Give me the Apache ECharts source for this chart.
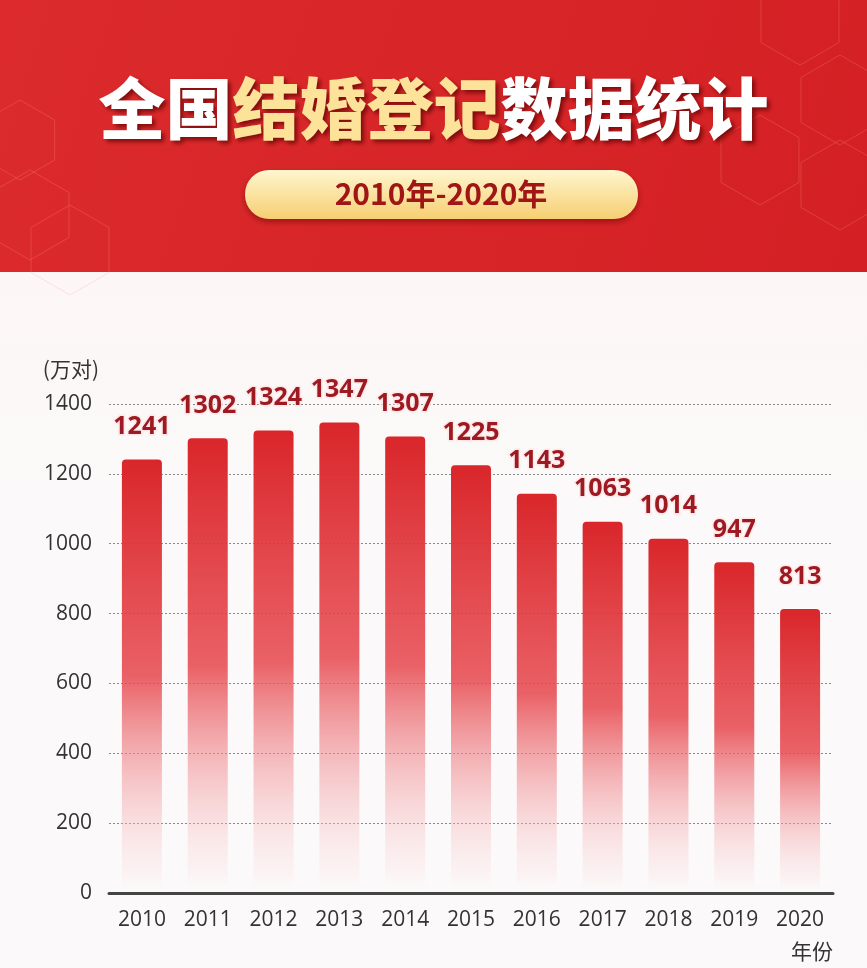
<!DOCTYPE html>
<html><head><meta charset="utf-8">
<script src="https://cdn.jsdelivr.net/npm/echarts@6/dist/echarts.min.js"></script>
<style>html,body{margin:0;padding:0;background:#fbf8f8;}#c{width:867px;height:968px;}</style>
</head><body><div id="c"></div>
<script>
const years = ['2010','2011','2012','2013','2014','2015','2016','2017','2018','2019','2020'];
const marriages = [1241,1302,1324,1347,1307,1225,1143,1063,1014,947,813];
const yTicks = {min:0, max:1400, interval:200};
const titleMain = ['全国','结婚登记','数据统计'];
const subtitle = '2010年-2020年';
const yName = '(万对)';
const xName = '年份';

const chart = echarts.init(document.getElementById('c'));
function hex(cx, cy, r){
  const pts=[];
  for(let i=0;i<6;i++){const a=Math.PI/3*i+Math.PI/6;pts.push([cx+r*Math.cos(a),cy+r*Math.sin(a)]);}
  return {type:'polygon',shape:{points:pts},style:{fill:'none',stroke:'rgba(255,150,140,0.25)',lineWidth:1},silent:true};
}
const hexes=[hex(800,20,45),hex(840,100,45),hex(840,185,45),hex(760,160,45),hex(30,215,45),hex(70,250,45),hex(20,140,40)];
chart.setOption({
  backgroundColor:'#fbf8f8',
  animation:false,
  graphic:[
    {type:'rect',z:-10,shape:{x:0,y:0,width:867,height:272},style:{fill:new echarts.graphic.LinearGradient(0,0,1,1,[{offset:0,color:'#dc2b2c'},{offset:1,color:'#d42024'}])},silent:true},
    {type:'group',z:-9,children:hexes},
    {type:'rect',z:-10,shape:{x:0,y:272,width:867,height:696},style:{fill:new echarts.graphic.LinearGradient(0,0,0,1,[{offset:0,color:'#fdf6f6'},{offset:0.3,color:'#fbf9f9'},{offset:1,color:'#fbf9f9'}])},silent:true},
    {type:'text',left:'center',top:75,z:10,style:{
      text:'{w|'+titleMain[0]+'}{y|'+titleMain[1]+'}{w|'+titleMain[2]+'}',
      rich:{
        w:{fontSize:67,fontWeight:900,fontFamily:'"Noto Sans CJK SC"',fill:'#ffffff',textShadowColor:'rgba(90,0,0,0.7)',textShadowBlur:4,textShadowOffsetX:3,textShadowOffsetY:3},
        y:{fontSize:67,fontWeight:900,fontFamily:'"Noto Sans CJK SC"',fill:'#fde39a',textShadowColor:'rgba(90,0,0,0.7)',textShadowBlur:4,textShadowOffsetX:3,textShadowOffsetY:3}
      }}},
    {type:'rect',z:10,shape:{x:245,y:170,width:393,height:49,r:24},style:{fill:new echarts.graphic.LinearGradient(0,0,0,1,[{offset:0,color:'#fff6cf'},{offset:1,color:'#f6cf72'}]),shadowColor:'rgba(100,0,0,0.5)',shadowBlur:6,shadowOffsetY:3}},
    {type:'text',z:11,x:441,y:194,style:{text:subtitle,fontSize:30,fontWeight:'bold',fontFamily:'"Noto Sans CJK SC"',fill:'#a01515',align:'center',verticalAlign:'middle'}}
  ],
  grid:{left:109,right:34,top:404,bottom:75},
  xAxis:{
    type:'category',data:years,
    name:xName,nameLocation:'end',nameGap:0,
    nameTextStyle:{fontSize:21,color:'#333',fontFamily:'"Noto Sans CJK SC"',align:'right',verticalAlign:'top',padding:[48,0,0,0]},
    axisLine:{lineStyle:{color:'#444',width:3}},
    axisTick:{show:false},
    axisLabel:{fontSize:21,color:'#333',margin:17,fontFamily:'"Open Sans"'}
  },
  yAxis:{
    type:'value',min:yTicks.min,max:yTicks.max,interval:yTicks.interval,
    name:yName,nameLocation:'end',nameGap:24,
    nameTextStyle:{fontSize:21,color:'#333',fontFamily:'"Noto Sans CJK SC"',align:'right',padding:[0,10,0,0]},
    axisLine:{show:false},axisTick:{show:false},
    axisLabel:{fontSize:21,color:'#333',margin:17,fontFamily:'"Open Sans"',formatter:function(v){return String(v);}},
    splitLine:{lineStyle:{color:'#888',type:[2,2],width:1}}
  },
  series:[{
    type:'bar',data:marriages,barWidth:40,
    itemStyle:{borderRadius:[4,4,0,0],color:new echarts.graphic.LinearGradient(0,0,0,1,[
      {offset:0,color:'#d9262a'},{offset:0.5,color:'rgba(230,70,76,0.85)'},{offset:0.96,color:'rgba(252,225,228,0.25)'},{offset:1,color:'rgba(255,255,255,0)'}])},
    label:{show:true,position:'top',distance:20,fontSize:25,fontWeight:'bold',color:'#9e1a22',fontFamily:'"Open Sans"',
      textBorderColor:'rgba(255,230,230,0.9)',textBorderWidth:3}
  }]
});
</script></body></html>
